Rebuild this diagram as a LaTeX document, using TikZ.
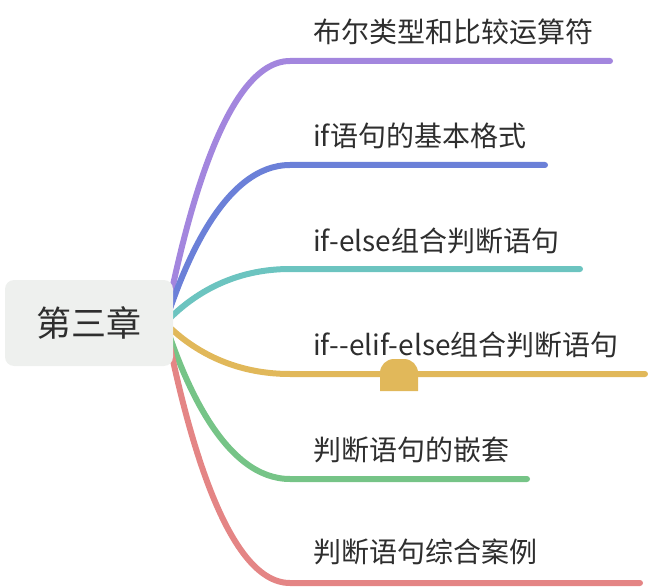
\documentclass[tikz,border=0pt]{standalone}
\usepackage{fontspec}
\setmainfont{Noto Sans CJK SC}
\usetikzlibrary{backgrounds}

\definecolor{rootgray}{HTML}{EEF0EE}
\definecolor{txt}{HTML}{2E2E2E}
\definecolor{cPurple}{HTML}{A386DE}
\definecolor{cBlue}{HTML}{6B80D8}
\definecolor{cTeal}{HTML}{6CC4C0}
\definecolor{cYellow}{HTML}{E1B85A}
\definecolor{cGreen}{HTML}{76C487}
\definecolor{cRed}{HTML}{E48585}

\begin{document}
\begin{tikzpicture}[
    x=1pt, y=-1pt,
    root/.style={fill=rootgray, rounded corners=9pt, minimum width=168pt,
                 minimum height=86pt, text=txt, font=\fontsize{35}{40}\selectfont},
    lbl/.style={anchor=west, inner sep=0pt, text=txt,
                font=\fontsize{28}{32}\selectfont},
    branch/.style={line width=6pt, line cap=round}
  ]
  \useasboundingbox (0,0) rectangle (648,588);

  \node[root] (root) at (89,323) {第三章};

  % where each branch turns flat, and where it stops
  \coordinate (s1) at (290,61);   \coordinate (e1) at (610,61);
  \coordinate (s2) at (290,165);  \coordinate (e2) at (545,165);
  \coordinate (s3) at (290,269);  \coordinate (e3) at (580,269);
  \coordinate (s4) at (290,374);  \coordinate (e4) at (645,374);
  \coordinate (s5) at (290,479);  \coordinate (e5) at (527,479);
  \coordinate (s6) at (290,583);  \coordinate (e6) at (640,583);

  \node[lbl] (l1) at (313,32)  {布尔类型和比较运算符};
  \node[lbl] (l2) at (313,136) {if语句的基本格式};
  \node[lbl] (l3) at (313,241) {if-else组合判断语句};
  \node[lbl] (l4) at (313,345) {if-{}-elif-else组合判断语句};
  \node[lbl] (l5) at (313,450) {判断语句的嵌套};
  \node[lbl] (l6) at (313,552) {判断语句综合案例};

  % Branches run out from behind the root box.
  \begin{scope}[on background layer]
    \draw[branch, cPurple] ([xshift=-8pt]root.east)
      .. controls (185,221) and (225,61) .. (s1) -- (e1);
    \draw[branch, cBlue] ([xshift=-8pt]root.east)
      .. controls (185,262) and (225,165) .. (s2) -- (e2);
    \draw[branch, cTeal] ([xshift=-8pt]root.east)
      .. controls (185,302) and (225,269) .. (s3) -- (e3);
    \draw[branch, cYellow] ([xshift=-8pt]root.east)
      .. controls (185,343) and (225,374) .. (s4) -- (e4);
    \draw[branch, cGreen] ([xshift=-8pt]root.east)
      .. controls (185,384) and (225,479) .. (s5) -- (e5);
    \draw[branch, cRed] ([xshift=-8pt]root.east)
      .. controls (185,424) and (225,583) .. (s6) -- (e6);
  \end{scope}

  % collapse knob on the yellow branch
  \fill[cYellow, rounded corners=14pt] (380,391) -- (380,359) -- (418,359) -- (418,391);

\end{tikzpicture}
\end{document}
